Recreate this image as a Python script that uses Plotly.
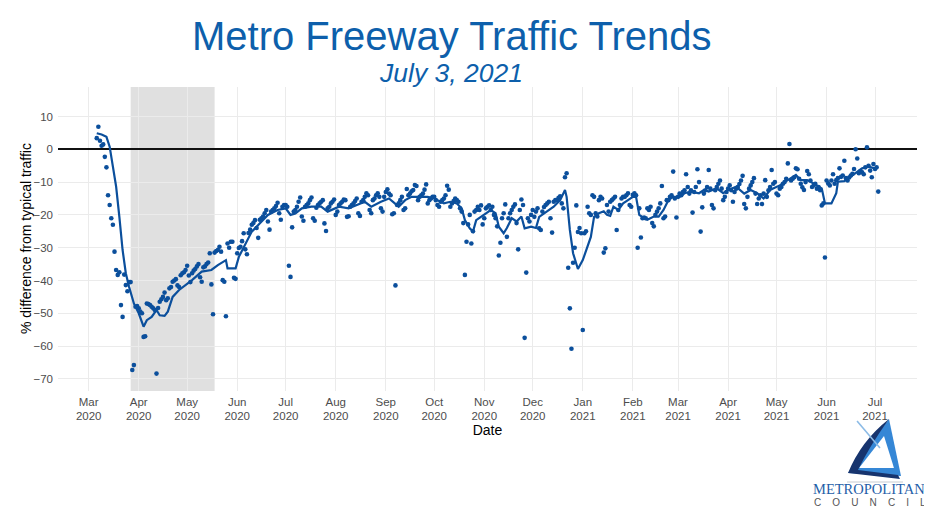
import pandas as pd
import plotly.graph_objects as go

# ---------------- data (daily % difference from typical traffic) ----------------
mar_2020 = [3.4, 6.9, 2.6, 1.1, 1.5, -2.3, -5.5, -14, -17, -21, -23, -31.2, -36.8, -38.3, -37.5, -47.5,
            -51.1, -38.2, -41.4, -43.3, -40.5, -40.5, -67.3, -65.8, -48, -47.8]  # from Mar 6
apr_2020 = [-48.5, -49.5, -50, -57.2, -57, -47, -47.2, -47.5, -48, -48.5, -49, -68.4, -48.4, -46.5, -45.7,
            -45, -43.7, -46, -45.4, -42.4, -42, -40.4, -40, -39.6, -41.5, -42, -38.4, -37.8, -37.5, -36.8]
may_2020 = [-35.5, -38.5, -40.5, -37.8, -37, -36.5, -35.7, -35, -39, -40.4, -36, -35.7, -35, -34.5, -31.7,
            -41.2, -50.3, -31.5, -31, -30.7, -29.7, -31.2, -39.9, -40.4, -50.9, -28.7, -30, -28.2, -28.2,
            -39.2, -39.5]
jun_2020 = [-31.7, -30.1, -29.7, -28, -25.6, -30.5, -32, -25.5, -24.5, -23, -22.5, -21.6, -24, -27, -21.5,
            -21, -20.5, -19.5, -18.5, -22, -24.5, -19, -18.5, -18, -17.3, -16.3, -19.5, -21.5, -17.5, -17]
jul_2020 = [-17, -17.5, -35.5, -38.9, -23.8, -19, -18.5, -17.5, -16, -14.7, -20.5, -21.8, -17.5, -17, -16.5,
            -15.5, -14.7, -21, -21.8, -17.8, -17, -16.5, -16, -15.5, -22.6, -24.9, -18, -17.5, -16.5, -16,
            -15.3]
aug_2020 = [-20, -19, -17, -16.5, -16, -15.3, -15.5, -20.6, -20.4, -17.5, -17, -16.5, -15.8, -15, -19.5,
            -20.3, -16, -15.5, -14.5, -13.4, -14, -18.5, -19.5, -15.5, -15, -14, -13.4, -14.5, -18, -19,
            -14.5]
sep_2020 = [-13, -12.2, -13.5, -14, -19.8, -19.5, -41.5, -17, -16.5, -15.5, -14.5, -18.5, -18, -12.1, -14,
            -13.5, -12.8, -12.4, -10.9, -11.2, -15.5, -14.5, -14, -13.5, -12.3, -10.7, -16.5, -15.5, -15,
            -14.5]
oct_2020 = [-14.5, -15.5, -17, -17.5, -16, -15.5, -15, -14, -11.1, -12.3, -17.5, -16.5, -15.8, -15, -15.5,
            -16, -18, -19, -22.5, -38.3, -28.2, -22.9, -20, -28.7, -25, -19, -18.5, -17.5, -18.5, -17.1,
            -22.9]
nov_2020 = [-21, -18, -17.5, -17.1, -18.5, -17.5, -20, -21, -23.5, -32.4, -28.5, -21, -19.5, -16.8, -26.7,
            -21, -19.5, -18.5, -17.5, -16.8, -22.5, -30.5, -18.5, -15.3, -17, -57.5, -37.6, -21, -22, -20]
dec_2020 = [-18.5, -20.6, -19, -18, -24.1, -24.6, -19, -17.6, -17, -16.5, -16, -21, -25.4, -16, -15.5,
            -15.5, -14.8, -14.3, -16.5, -18, -8.5, -7.3, -36.1, -48.5, -60.8, -34.6, -30, -17.1, -25.2, -24,
            -25.6]
jan_2021 = [-55.1, -25.6, -25, -17.5, -19.5, -20, -14, -14.5, -19.5, -20.5, -15.5, -14.5, -15, -31.5, -30.2,
            -17, -19, -16, -15.5, -15, -14.5, -24.6, -18.5, -17, -15, -14.5, -14.5, -14, -13.4, -17, -17.5]
feb_2021 = [-13.9, -13.4, -14, -30, -18, -26.9, -21, -20.8, -21, -18, -18.5, -17.5, -22.5, -23.5, -20, -19,
            -18, -16.5, -11.2, -21, -20.5, -15.5, -15.5, -14.5, -14, -6.8, -15, -20.8]
mar_2021 = [-14.5, -13.5, -14, -13, -12.5, -7.6, -11.5, -13.5, -12.5, -19.3, -13, -11.5, -6.1, -10, -25.1,
            -17.7, -13.5, -12.5, -11.5, -6.3, -12, -17, -18, -12.5, -11.5, -10.5, -9.5, -12, -15.5, -14.5,
            -13]
apr_2021 = [-12, -11, -12.5, -16, -13, -12, -11.5, -10.6, -9.5, -8.1, -16.7, -18, -14.5, -12, -11, -10,
            -8.8, -13.5, -16.7, -15, -14, -16.7, -13.5, -9.4, -14.5, -12.5, -11.5, -6.3, -10.5, -10]
may_2021 = [-13.5, -14, -12, -11.5, -10.5, -10, -9, -4.3, 1.6, -9.5, -9, -8.5, -5.8, -6.1, -9, -10.5, -11.6,
            -12.4, -10, -6.6, -7.6, -9.5, -11.5, -11, -10.5, -12, -11.5, -12.5, -17.1, -16.5, -33]
jun_2021 = [-9.5, -10.4, -11, -9.5, -7.6, -10.5, -9.4, -8.8, -5.8, -8.4, -8, -3.5, -8.8, -9.5, -8.6, -8,
            -7.5, -6, 0, -2.8, -7.3, -6.6, -7, -7.6, -5.5, 0.6, -5, -6.5, -8.5, -4.5]
jul_2021 = [-6, -5.5, -12.9]

daily_start = "2020-03-06"
daily_end = "2021-07-03"

# smoothed trend line
trend_dates = [
    "2020-03-06", "2020-03-09", "2020-03-12", "2020-03-14", "2020-03-16", "2020-03-18", "2020-03-20",
    "2020-03-22", "2020-03-24", "2020-03-26", "2020-03-29", "2020-04-01", "2020-04-04", "2020-04-06",
    "2020-04-09", "2020-04-12", "2020-04-14", "2020-04-17", "2020-04-19", "2020-04-22", "2020-04-26",
    "2020-04-30", "2020-05-04", "2020-05-10", "2020-05-16", "2020-05-20", "2020-05-25", "2020-05-26",
    "2020-05-31", "2020-06-02", "2020-06-06", "2020-06-10", "2020-06-14", "2020-06-20", "2020-06-26",
    "2020-07-01", "2020-07-04", "2020-07-07", "2020-07-11", "2020-07-17", "2020-07-23", "2020-07-27",
    "2020-08-03", "2020-08-09", "2020-08-19", "2020-08-23", "2020-08-29", "2020-09-03", "2020-09-09",
    "2020-09-13", "2020-09-17", "2020-09-21", "2020-09-27", "2020-10-01", "2020-10-07", "2020-10-11",
    "2020-10-15", "2020-10-18", "2020-10-20", "2020-10-23", "2020-10-25", "2020-10-27", "2020-11-01",
    "2020-11-05", "2020-11-08", "2020-11-10", "2020-11-13", "2020-11-15", "2020-11-18", "2020-11-21",
    "2020-11-24", "2020-11-26", "2020-11-30", "2020-12-03", "2020-12-05", "2020-12-10", "2020-12-14",
    "2020-12-18", "2020-12-21", "2020-12-22", "2020-12-24", "2020-12-26", "2020-12-29", "2021-01-01",
    "2021-01-04", "2021-01-06", "2021-01-08", "2021-01-11", "2021-01-14", "2021-01-16", "2021-01-18",
    "2021-01-20", "2021-01-23", "2021-01-26", "2021-01-29", "2021-02-01", "2021-02-03", "2021-02-05",
    "2021-02-08", "2021-02-10", "2021-02-14", "2021-02-17", "2021-02-20", "2021-02-23", "2021-02-26",
    "2021-03-02", "2021-03-05", "2021-03-09", "2021-03-14", "2021-03-17", "2021-03-20", "2021-03-25",
    "2021-03-29", "2021-04-01", "2021-04-06", "2021-04-11", "2021-04-15", "2021-04-19", "2021-04-23",
    "2021-04-27", "2021-05-03", "2021-05-08", "2021-05-13", "2021-05-16", "2021-05-20", "2021-05-24",
    "2021-05-29", "2021-05-31", "2021-06-04", "2021-06-07", "2021-06-08", "2021-06-12", "2021-06-17",
    "2021-06-23", "2021-06-27", "2021-07-01",
]
trend_values = [
    4.9, 4.5, 3.8, 0.8, -5.3, -11.4, -20.6,
    -30.7, -37.8, -41.9, -47, -50, -54.1, -52.1,
    -51.1, -49, -50.6, -50.8, -49.5, -45, -42.9,
    -41.4, -39.9, -37.3, -36.8, -35.3, -33.8, -36.3,
    -36.3, -32.8, -28.7, -25.1, -23.1, -20, -18.5,
    -18, -20, -19.6, -18, -17.5, -17.5, -19,
    -17.5, -18, -16, -17.5, -16, -15, -17.5,
    -15.5, -14.5, -14.5, -14.5, -15, -16.5, -16,
    -16.5, -18, -21.6, -24.1, -25.1, -21.6, -20,
    -18.5, -19.5, -23.6, -25.6, -24, -21, -22,
    -20.5, -24.1, -23.6, -24, -20.6, -19, -17.5,
    -15.5, -12.4, -14.5, -24.6, -31.7, -36.5, -33.8,
    -29.7, -26.7, -20.6, -19.5, -18.9, -20, -20.3,
    -17.5, -18.5, -16.5, -15.5, -14.5, -14.5, -20,
    -21, -21.5, -20.5, -20.5, -18.5, -15.5, -14.5,
    -14.5, -13.4, -12.9, -13.4, -12.4, -12.9, -11.9,
    -13.4, -12.4, -11.4, -13.5, -12.4, -13.4, -15,
    -12.4, -11, -9.5, -7.8, -9.4, -9.4, -10.4,
    -11.9, -16.5, -16.5, -13.4, -9.9, -9.7, -7.8,
    -5.8, -5.3, -5.8,
]

month_tick_dates = ["2020-03-01", "2020-04-01", "2020-05-01", "2020-06-01", "2020-07-01", "2020-08-01",
                    "2020-09-01", "2020-10-01", "2020-11-01", "2020-12-01", "2021-01-01", "2021-02-01",
                    "2021-03-01", "2021-04-01", "2021-05-01", "2021-06-01", "2021-07-01"]
month_tick_labels = ["Mar<br>2020", "Apr<br>2020", "May<br>2020", "Jun<br>2020", "Jul<br>2020",
                     "Aug<br>2020", "Sep<br>2020", "Oct<br>2020", "Nov<br>2020", "Dec<br>2020",
                     "Jan<br>2021", "Feb<br>2021", "Mar<br>2021", "Apr<br>2021", "May<br>2021",
                     "Jun<br>2021", "Jul<br>2021"]
y_tick_values = [10, 0, -10, -20, -30, -40, -50, -60, -70]

shade_start = "2020-03-27"
shade_end = "2020-05-18"

# ---------------- assemble ----------------
daily_values = (mar_2020 + apr_2020 + may_2020 + jun_2020 + jul_2020 + aug_2020 + sep_2020 + oct_2020
                + nov_2020 + dec_2020 + jan_2021 + feb_2021 + mar_2021 + apr_2021 + may_2021 + jun_2021
                + jul_2021)
daily_dates = pd.date_range(daily_start, daily_end, freq="D")
assert len(daily_dates) == len(daily_values), (len(daily_dates), len(daily_values))

# the page body adds an 8px offset, so the figure is laid out in (screen - 8) coordinates
OFF = 8
W, H = 932 - OFF, 524 - OFF
L, T = 58 - OFF, 87 - OFF
R, B = W - (917 - OFF), H - (391 - OFF)
PW, PH = W - L - R, H - T - B

DOT = "#0b4f9c"
TITLE_BLUE = "#0d5fab"
FONT = "Liberation Sans, Arial, sans-serif"
X_RANGE = ["2020-02-11 00:00", "2021-07-27 00:00"]


def px(x):
    return (x - OFF - L) / PW


def py(y):
    return 1 - (y - OFF - T) / PH


def P(x, y):
    return f"{px(x):.4f},{py(y):.4f}"


fig = go.Figure()
fig.add_trace(go.Scatter(x=daily_dates, y=daily_values, mode="markers",
                         marker=dict(size=4.6, color=DOT), hoverinfo="x+y", showlegend=False))
fig.add_trace(go.Scatter(x=pd.to_datetime(trend_dates), y=trend_values, mode="lines",
                         line=dict(color=DOT, width=2.2), showlegend=False))

shapes = [
    dict(type="rect", xref="x", yref="paper", x0=shade_start, x1=shade_end, y0=0, y1=1,
         fillcolor="rgba(0,0,0,0.12)", line=dict(width=0), layer="between"),
    # logo
    dict(type="path", xref="paper", yref="paper",
         path="M " + P(889, 419) + " L " + P(901, 476) + " L " + P(848, 473) + " Z",
         fillcolor="#3587d6", line=dict(width=0)),
    dict(type="path", xref="paper", yref="paper",
         path="M " + P(884, 436) + " L " + P(894, 468) + " L " + P(859, 468) + " Z",
         fillcolor="white", line=dict(width=0)),
    dict(type="path", xref="paper", yref="paper",
         path="M " + P(889, 419) + " Q " + P(861, 441) + " " + P(848, 473) + " L " + P(900, 479)
              + " L " + P(898, 475) + " L " + P(858, 470) + " Q " + P(869, 447) + " " + P(889, 419) + " Z",
         fillcolor="#17346e", line=dict(width=0)),
    dict(type="path", xref="paper", yref="paper",
         path="M " + P(857, 421) + " L " + P(880, 448),
         line=dict(color="#8cbbe6", width=1.6)),
    dict(type="path", xref="paper", yref="paper",
         path="M " + P(847, 482) + " L " + P(903, 482),
         line=dict(color="#e3e5e8", width=2)),
]

annotations = [
    dict(text="Metro Freeway Traffic Trends", x=px(451), y=py(36), xref="paper", yref="paper",
         showarrow=False, xanchor="center", yanchor="middle",
         font=dict(family=FONT, size=40, color=TITLE_BLUE)),
    dict(text="<i>July 3, 2021</i>", x=px(451), y=py(73), xref="paper", yref="paper",
         showarrow=False, xanchor="center", yanchor="middle",
         font=dict(family=FONT, size=26.5, color=TITLE_BLUE)),
    dict(text="% difference from typical traffic", x=px(26), y=py(239), xref="paper", yref="paper",
         showarrow=False, xanchor="center", yanchor="middle", textangle=-90,
         bgcolor="rgba(0,0,0,0)", borderpad=0,
         font=dict(family=FONT, size=14, color="black")),
    dict(text="METROPOLITAN", x=px(869), y=py(489), xref="paper", yref="paper",
         showarrow=False, xanchor="center", yanchor="middle",
         font=dict(family="Liberation Serif, Times New Roman, serif", size=14.5, color="#1f5ea8")),
    dict(text="\u00a0\u00a0\u00a0\u00a0".join("COUNCIL"), x=px(869.5), y=py(502), xref="paper",
         yref="paper", showarrow=False, xanchor="center", yanchor="middle",
         font=dict(family=FONT, size=10, color="#555555")),
]

fig.update_layout(
    width=W, height=H,
    margin=dict(l=L, r=R, t=T, b=B, autoexpand=False),
    paper_bgcolor="white", plot_bgcolor="white",
    font=dict(family=FONT),
    shapes=shapes, annotations=annotations,
    xaxis=dict(type="date", range=X_RANGE, automargin=False,
               tickvals=pd.to_datetime(month_tick_dates), ticktext=month_tick_labels,
               tickfont=dict(size=11.5, color="#4d4d4d", family=FONT), ticklabelstandoff=2,
               showgrid=True, gridcolor="#ebebeb", gridwidth=1, zeroline=False, showline=False,
               ticks="", title=dict(text="Date", font=dict(size=14, color="black", family=FONT),
                                    standoff=2)),
    yaxis=dict(range=[-73.7, 19.0], tickvals=y_tick_values, automargin=False,
               tickfont=dict(size=11.5, color="#4d4d4d", family=FONT), ticklabelstandoff=4,
               showgrid=True, gridcolor="#ebebeb", gridwidth=1,
               zeroline=True, zerolinecolor="#111111", zerolinewidth=1.5, showline=False, ticks=""),
)

fig.write_html("out.html")
